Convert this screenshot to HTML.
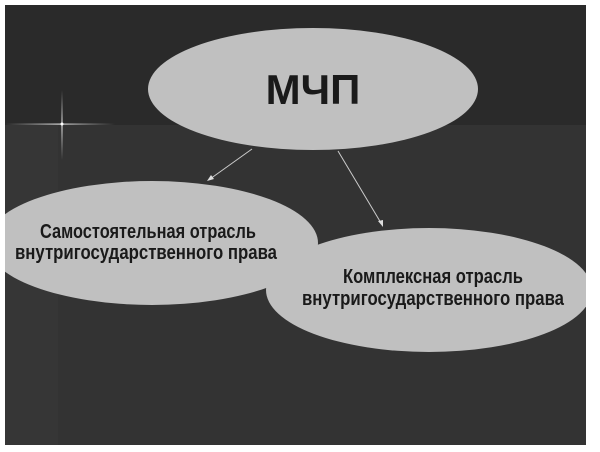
<!DOCTYPE html>
<html><head><meta charset="utf-8"><style>
html,body{margin:0;padding:0;background:#fff;}
svg{display:block;}
text{font-family:"Liberation Sans Narrow","Liberation Sans",sans-serif;font-weight:bold;fill:#1a1a1a;}
</style></head><body>
<svg width="600" height="452" viewBox="0 0 600 452" xmlns="http://www.w3.org/2000/svg">
<defs>
<linearGradient id="h" x1="0" y1="0" x2="1" y2="0">
<stop offset="0" stop-color="#ddd" stop-opacity="0"/><stop offset="0.5" stop-color="#eee" stop-opacity="0.9"/><stop offset="1" stop-color="#ddd" stop-opacity="0"/>
</linearGradient>
<linearGradient id="v" x1="0" y1="0" x2="0" y2="1">
<stop offset="0" stop-color="#ddd" stop-opacity="0"/><stop offset="0.5" stop-color="#eee" stop-opacity="0.9"/><stop offset="1" stop-color="#ddd" stop-opacity="0"/>
</linearGradient>
<clipPath id="c"><rect x="5" y="5" width="581" height="440"/></clipPath>
</defs>
<rect x="0" y="0" width="600" height="452" fill="#fff"/>
<g clip-path="url(#c)">
<rect x="5" y="5" width="581" height="440" fill="#363636"/>
<rect x="5" y="5" width="581" height="120" fill="#2a2a2a"/>
<rect x="58" y="125" width="528" height="320" fill="#333"/>
<rect x="5" y="123.5" width="110" height="1.2" fill="url(#h)"/>
<rect x="61.4" y="90" width="1.2" height="70" fill="url(#v)"/>
<circle cx="62" cy="124" r="1.5" fill="#fff"/>
<ellipse cx="313" cy="89" rx="165" ry="61" fill="#c0c0c0"/>
<ellipse cx="152" cy="243" rx="166" ry="62" fill="#c0c0c0"/>
<ellipse cx="429" cy="290" rx="163" ry="62" fill="#c0c0c0"/>
<line x1="252" y1="149" x2="210" y2="179" stroke="#ccc" stroke-width="1"/>
<polygon points="207,181 211,175 214,179" fill="#ddd"/>
<line x1="338" y1="151" x2="381" y2="223" stroke="#ccc" stroke-width="1"/>
<polygon points="383,227 378,221 383,220" fill="#ddd"/>
</g>
<text x="313" y="104" font-size="42" text-anchor="middle">МЧП</text>
<text x="148" y="238" font-size="20" text-anchor="middle" textLength="216" lengthAdjust="spacingAndGlyphs">Самостоятельная отрасль</text>
<text x="146" y="259" font-size="20" text-anchor="middle" textLength="262" lengthAdjust="spacingAndGlyphs">внутригосударственного права</text>
<text x="433" y="283" font-size="20" text-anchor="middle" textLength="180" lengthAdjust="spacingAndGlyphs">Комплексная отрасль</text>
<text x="433" y="305" font-size="20" text-anchor="middle" textLength="262" lengthAdjust="spacingAndGlyphs">внутригосударственного права</text>
</svg>
</body></html>
